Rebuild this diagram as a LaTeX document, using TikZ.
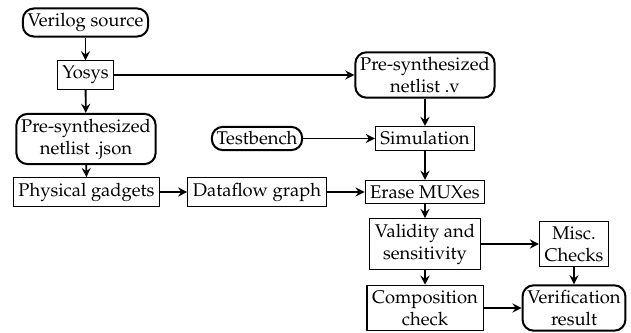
\documentclass[tikz,border=0pt]{standalone}
\usepackage[T1]{fontenc}
\usepackage{mathpazo}
\usetikzlibrary{arrows.meta}
\begin{document}
\begin{tikzpicture}[x=0.5435pt,y=-0.5435pt,
  rbox/.style={draw,line width=1.1pt,rounded corners=6pt,inner sep=2.6pt,align=center,font=\fontsize{10}{12}\selectfont},
  sbox/.style={draw,line width=0.55pt,inner sep=2.8pt,align=center,font=\fontsize{10}{12}\selectfont},
  arr/.style={-{Stealth[length=5pt,width=5pt,inset=1.8pt]},line width=1pt}]
\useasboundingbox (0,0) rectangle (631,333);
\node[rbox] (verilog) at (85.5,22.5) {Verilog source};
\node[sbox] (yosys) at (85.5,75) {Yosys};
\node[rbox] (json) at (86,139) {Pre-synthesized\\netlist .json};
\node[sbox] (phys) at (86.5,192) {Physical gadgets};
\node[sbox] (dataflow) at (257,192) {Dataflow graph};
\node[rbox] (testbench) at (257,138.5) {Testbench};
\node[rbox] (netv) at (425,75) {Pre-synthesized\\netlist .v};
\node[sbox] (sim) at (425,138.5) {Simulation};
\node[sbox] (erase) at (425,192) {Erase MUXes};
\node[sbox] (valid) at (425,244) {Validity and\\sensitivity};
\node[sbox] (misc) at (574,244) {Misc.\\Checks};
\node[sbox] (comp) at (425,308) {Composition\\check};
\node[rbox] (verif) at (574,308) {Verification\\result};
\draw[arr] (verilog) -- (yosys);
\draw[arr] (yosys) -- (json);
\draw[arr] (json) -- (phys);
\draw[arr] (yosys) -- (netv);
\draw[arr] (netv) -- (sim);
\draw[arr] (testbench) -- (sim);
\draw[arr] (phys) -- (dataflow);
\draw[arr] (dataflow) -- (erase);
\draw[arr] (sim) -- (erase);
\draw[arr] (erase) -- (valid);
\draw[arr] (valid) -- (misc);
\draw[arr] (valid) -- (comp);
\draw[arr] (misc) -- (verif);
\draw[arr] (comp) -- (verif);
\end{tikzpicture}
\end{document}
